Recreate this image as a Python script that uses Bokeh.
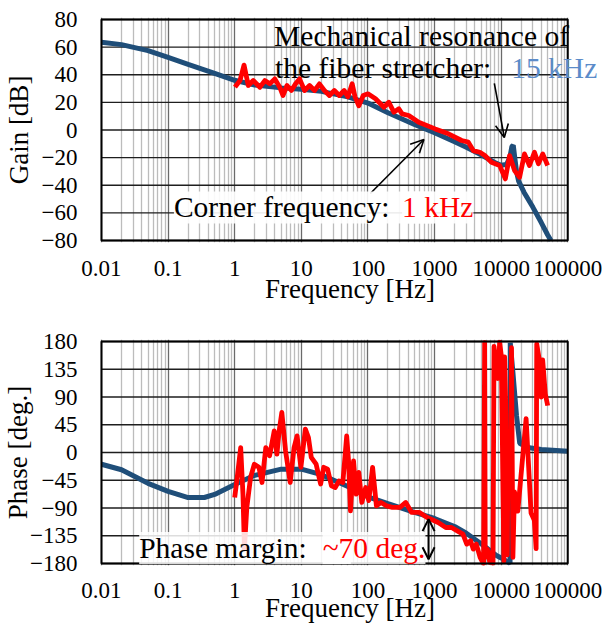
from bokeh.plotting import figure
from bokeh.models import FixedTicker, CustomJSTickFormatter, Label, Arrow, OpenHead
from bokeh.layouts import column
from bokeh.embed import file_html
from bokeh.resources import INLINE

# ---------------- data ----------------
x_ticks = [0.01, 0.1, 1, 10, 100, 1000, 10000, 100000]
x_tick_labels = ["0.01", "0.1", "1", "10", "100", "1000", "10000", "100000"]
gain_ticks = [-80, -60, -40, -20, 0, 20, 40, 60, 80]
phase_ticks = [-180, -135, -90, -45, 0, 45, 90, 135, 180]

# model (blue) gain
gain_model_f = [0.01, 0.02, 0.05, 0.1, 0.2, 0.5, 1, 2, 5, 10, 20, 50, 100, 200, 500,
                1000, 2000, 3000, 5000, 8000, 10000, 12000, 13500, 14500, 15200, 16000,
                17000, 18300, 22000, 30000, 40000, 50000, 56000]
gain_model_db = [63.5, 61.8, 57.5, 52.5, 47.5, 41, 36, 32.5, 30.5, 29.5, 28, 24, 19.5, 12.5, 4,
                 -2, -8.5, -12.5, -18, -23.5, -25.5, -25, -20, -12, -11, -20,
                 -30, -37, -45, -56, -67, -76, -80]

# measured (red) gain
gain_meas_f = [1.01, 1.2, 1.38, 1.6, 1.9, 2.39, 2.83, 3.36, 4.0, 4.74,
               5.3, 6.1, 7.1, 8.2, 9.4, 11.2, 13.3, 15.8, 18.7, 22.2,
               26.4, 31.3, 37.2, 44, 50, 58, 64, 73, 85, 100,
               130, 174, 206, 245, 291, 326, 410, 578, 1023, 1618,
               2556, 3213, 3813, 4790, 5690, 7150, 9500, 11560, 13400, 15900,
               18900, 22400, 26600, 31600, 36300, 42100, 49900]
gain_meas_db = [31, 35.8, 47, 32.2, 35.8, 31, 35.8, 33.4, 37, 31,
                25, 32.2, 28.6, 33.4, 37, 28.6, 32.2, 28.6, 33.4, 28.6,
                25, 28.6, 25, 28.6, 24, 33.5, 24, 17.5, 25, 26.2,
                22.6, 16.5, 20.1, 12.9, 15.3, 11.7, 10.5, 5.6, 0.8, -2.8,
                -7.6, -8.8, -14.9, -16.1, -18.5, -23.3, -25.7, -35.4, -18.5, -29.4,
                -34.2, -17.3, -25.7, -16.1, -24.5, -17.3, -25.7]

# model (blue) phase
phase_model_f = [0.01, 0.02, 0.05, 0.1, 0.2, 0.35, 0.5, 1, 2, 5, 10, 20, 50, 100, 200,
                 500, 1000, 2000, 3000, 5000, 8500, 10000, 12000, 13600, 13700, 15000,
                 17000, 19000, 25000, 40000, 100000]
phase_model_deg = [-19, -28, -50, -63, -73, -73, -68, -52, -37, -27, -27, -36, -55, -72, -83,
                   -97, -107, -120, -131, -148, -167, -171, -176, -180, 178, 130,
                   60, 15, 8, 5, 2]

# measured (red) phase
phase_meas_f = [1.0, 1.09, 1.23, 1.33, 1.40, 1.52, 1.73, 1.97, 2.31, 2.57,
                2.93, 3.34, 3.92, 4.30, 4.65, 5.1, 5.8, 6.81, 7.78, 8.64,
                9.86, 11.5, 12.8, 14.1, 16.7, 18.5, 19.5, 21.7, 24.8, 28.3,
                32.3, 36.8, 42, 48, 51.2, 54.7, 60.8, 66.7, 73, 81,
                92.7, 103, 117.5, 134, 157, 191, 233, 303, 370, 451,
                587, 764, 1133, 1476, 1799, 2193, 2669, 3047, 3474, 3810,
                4236, 4832, 5100, 5450, 5650, 5760, 6220, 6740, 7130, 7550,
                7816, 8470, 8970, 9490, 10050, 11000, 11270, 11800, 12360, 12600,
                13370, 13800, 14300, 15000, 15860, 17800, 23700, 28100, 31500, 33500,
                34200, 37400, 40000, 42000, 46000, 50000]
phase_meas_deg = [-73, -40.5, 8, -67.6, -156.7, -89, -40.5, -19, -24, -48.6,
                  8, -5.4, 35, -2.7, 35, 65, 2.7, -48.6, 8, 27,
                  -24, 38, 24.3, -8, -19, -40.5, -51, -24, -27, -54,
                  -56.7, -46, -48.6, 27, -13.5, -94.6, -13.5, -67.6, -32.4, -81,
                  -56.7, -78, -24, -86.5, -81, -86.5, -89, -89, -81, -97,
                  -97, -105, -113.5, -121.6, -121.6, -127, -132.4, -148.6, -143, -156.7,
                  -148.6, -170, -175, -180, 178, -170, -157, -178, -162, -180,
                  172, 136, 120, 179, 157, -176, 155, 60, -166, -30,
                  35, -60, 170, -170, -64, -95, 55, -98, -110, -156,
                  176, 150, 90, 150, 95, 76]

# ---------------- style ----------------
FONT = "Liberation Serif"
BLUE = "#1f4e79"
RED = "#ff0000"
LIGHTBLUE = "#5b8bc9"
x_minor = [m * 10.0 ** e for e in range(-2, 5) for m in range(2, 10)]

PX_PER_DEC = 470 / 7.0     # horizontal scale of the plot frame
PAD = 2                    # px of frame padding so the drawn border is not clipped
X_LO, X_HI = x_ticks[0], x_ticks[-1]
FRAME_W = 505              # frame extends to the right so annotation text is not clipped
x_start = 10 ** (-2 - PAD / PX_PER_DEC)
x_end = 10 ** (-2 - PAD / PX_PER_DEC + FRAME_W / PX_PER_DEC)

fmt = CustomJSTickFormatter(args=dict(tick_vals=x_ticks, tick_texts=x_tick_labels), code="""
let best = -1;
for (let k = 0; k < tick_vals.length; k++) {
  if (Math.abs(Math.log10(tick) - Math.log10(tick_vals[k])) < 1e-6) best = k;
}
return best >= 0 ? tick_texts[best] : '';
""")


def make_fig(yticks, ylabel, height, top, bottom, plot_h, tick_standoff, label_standoff,
             ylab_standoff):
    ylo, yhi = yticks[0], yticks[-1]
    ypad = PAD * (yhi - ylo) / plot_h
    p = figure(x_axis_type="log", x_range=(x_start, x_end), y_range=(ylo - ypad, yhi + ypad),
               width=605, height=height, output_backend="svg", toolbar_location=None,
               min_border_left=95, min_border_right=605 - 95 - FRAME_W,
               min_border_top=top, min_border_bottom=bottom)
    p.background_fill_color = "white"
    p.border_fill_color = "white"
    p.outline_line_color = None

    xt = FixedTicker(ticks=x_ticks, minor_ticks=x_minor)
    p.xaxis.ticker = xt
    p.xaxis.formatter = fmt
    p.xgrid.ticker = xt
    p.yaxis.ticker = FixedTicker(ticks=yticks)

    p.xgrid.grid_line_color = "#6a6a6a"
    p.xgrid.grid_line_width = 1.3
    p.xgrid.minor_grid_line_color = "#bcbcbc"
    p.xgrid.minor_grid_line_width = 1.3
    p.ygrid.grid_line_color = None

    # horizontal grid lines, limited to the data frame
    n = len(yticks)
    p.segment(x0=[X_LO] * n, y0=yticks, x1=[X_HI] * n, y1=yticks,
              line_color="#1e1e1e", line_width=1.3)

    for ax in (p.xaxis[0], p.yaxis[0]):
        ax.axis_line_color = None
        ax.major_tick_line_color = None
        ax.minor_tick_line_color = None
        ax.major_tick_out = 0
        ax.major_tick_in = 0
        ax.minor_tick_out = 0
        ax.minor_tick_in = 0
        ax.major_label_text_font = FONT
        ax.major_label_text_font_size = "23px"
        ax.major_label_text_color = "black"
        ax.axis_label_text_font = FONT
        ax.axis_label_text_font_size = "27px"
        ax.axis_label_text_font_style = "normal"
        ax.axis_label_text_color = "black"

    p.xaxis.axis_label = "Frequency [Hz]"
    p.xaxis.major_label_standoff = tick_standoff
    p.xaxis.axis_label_standoff = label_standoff
    p.yaxis.axis_label = ylabel
    p.yaxis.major_label_standoff = 22
    p.yaxis.axis_label_standoff = ylab_standoff
    return p


def add_border(p, ylo, yhi):
    p.quad(left=[X_LO], right=[X_HI], bottom=[ylo], top=[yhi],
           fill_color=None, line_color="black", line_width=2)


# ---------------- gain plot ----------------
p1 = make_fig(gain_ticks, "Gain [dB]", 318, 17, 76, 221, 18, -5, 5)
p1.line(gain_model_f, gain_model_db, line_color=BLUE, line_width=5)
p1.line(gain_meas_f, gain_meas_db, line_color=RED, line_width=4.8, line_join="round")
add_border(p1, gain_ticks[0], gain_ticks[-1])

lab_kw = dict(text_font=FONT, text_font_size="29.5px", text_baseline="alphabetic", text_align="left")
p1.add_layout(Label(x=3.906, y=68.4, text="Mechanical resonance of", text_color="black", **lab_kw))
p1.add_layout(Label(x=4.04, y=45.2, text="the fiber stretcher:", text_color="black", **lab_kw))
p1.add_layout(Label(x=14160, y=45.2, text="15 kHz", text_color=LIGHTBLUE, **lab_kw))
p1.add_layout(Arrow(end=OpenHead(size=13, line_width=1.6, line_color="black"),
                    x_start=7906, y_start=33.7, x_end=11150, y_end=-5.4,
                    line_width=1.6, line_color="black"))
p1.add_layout(Arrow(end=OpenHead(size=13, line_width=1.6, line_color="black"),
                    x_start=108.6, y_start=-46, x_end=693, y_end=-6.9,
                    line_width=1.6, line_color="black"))
p1.add_layout(Label(x=0.1223, y=-56.1, text="Corner frequency:      ", text_color="black",
                    background_fill_color="white", background_fill_alpha=0.9, **lab_kw))
p1.add_layout(Label(x=326, y=-56.1, text="1 kHz", text_color=RED,
                    background_fill_color="white", background_fill_alpha=0.9, **lab_kw))

# ---------------- phase plot ----------------
p2 = make_fig(phase_ticks, "Phase [deg.]", 307, 21, 60, 222, 17, -8, -6)
p2.line(phase_model_f, phase_model_deg, line_color=BLUE, line_width=5)
p2.line(phase_meas_f, phase_meas_deg, line_color=RED, line_width=4.8, line_join="round")
add_border(p2, phase_ticks[0], phase_ticks[-1])

p2.add_layout(Label(x=0.0368, y=-155, text="Phase margin:      ", text_color="black",
                    background_fill_color="white", background_fill_alpha=0.85, **lab_kw))
p2.add_layout(Label(x=20.9, y=-155, text="~70 deg.", text_color=RED,
                    background_fill_color="white", background_fill_alpha=0.85, **lab_kw))
p2.add_layout(Arrow(start=OpenHead(size=12, line_width=2, line_color="black"),
                    end=OpenHead(size=12, line_width=2, line_color="black"),
                    x_start=813, y_start=-108, x_end=813, y_end=-173,
                    line_width=2, line_color="black"))

layout = column(p1, p2, spacing=0)
open("out.html", "w").write(file_html(layout, INLINE))
